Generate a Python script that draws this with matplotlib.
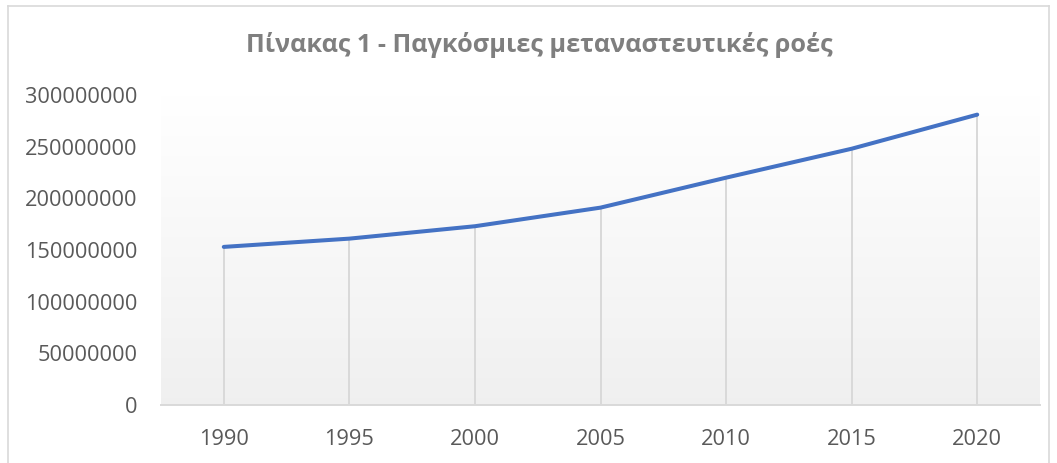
import numpy as np
import matplotlib
matplotlib.use('Agg')
from matplotlib import pyplot as plt
from matplotlib.lines import Line2D

years = ['1990', '1995', '2000', '2005', '2010', '2015', '2020']
migrants = [153000000, 161000000, 173000000, 191000000, 220000000, 248000000, 281000000]
y_ticks = [0, 50000000, 100000000, 150000000, 200000000, 250000000, 300000000]
title = 'Πίνακας 1 - Παγκόσμιες μεταναστευτικές ροές'

plt.rcParams['font.family'] = ['Open Sans', 'DejaVu Sans']
W, H = 1057, 463
fig = plt.figure(figsize=(W / 100, H / 100), dpi=100)
ax = fig.add_axes([161 / W, 1 - 405 / H, (1040 - 161) / W, (405 - 95) / H])

x = np.arange(len(years))

# plot area gradient, white at top to light gray at bottom
grad = np.linspace(1.0, 0.94, 256).reshape(-1, 1)
ax.imshow(np.dstack([grad, grad, grad]), extent=(-0.5, len(years) - 0.5, 0, 300000000),
          aspect='auto', zorder=0, origin='upper')
ax.set_xlim(-0.5, len(years) - 0.5)
ax.set_ylim(0, 300000000)

ax.vlines(x, 0, migrants, color='#d9d9d9', lw=1.4, zorder=1)
ax.plot(x, migrants, color='#4472c4', lw=2.9, solid_capstyle='round', zorder=3)

for s in ['top', 'right', 'left']:
    ax.spines[s].set_visible(False)
ax.spines['bottom'].set_color('#d9d9d9')
ax.spines['bottom'].set_linewidth(1.4)

ax.set_xticks(x)
ax.set_xticklabels(years)
ax.set_yticks(y_ticks)
ax.set_yticklabels([str(v) for v in y_ticks])
ax.tick_params(length=0, labelsize=15.7, colors='#595959')
ax.tick_params(axis='y', pad=17)
ax.tick_params(axis='x', pad=17)

fig.text(539 / W, 1 - 45 / H, title, ha='center', va='center',
         fontsize=18.2, fontweight='bold', color='#7f7f7f')

# chart border
for xs, ys in [([8, 8], [6, 470]), ([8, 1049], [6, 6]), ([1049, 1049], [6, 470])]:
    fig.add_artist(Line2D([v / W for v in xs], [1 - v / H for v in ys],
                          color='#d9d9d9', lw=1.2))

fig.savefig('out.png', dpi=100, facecolor='white')
